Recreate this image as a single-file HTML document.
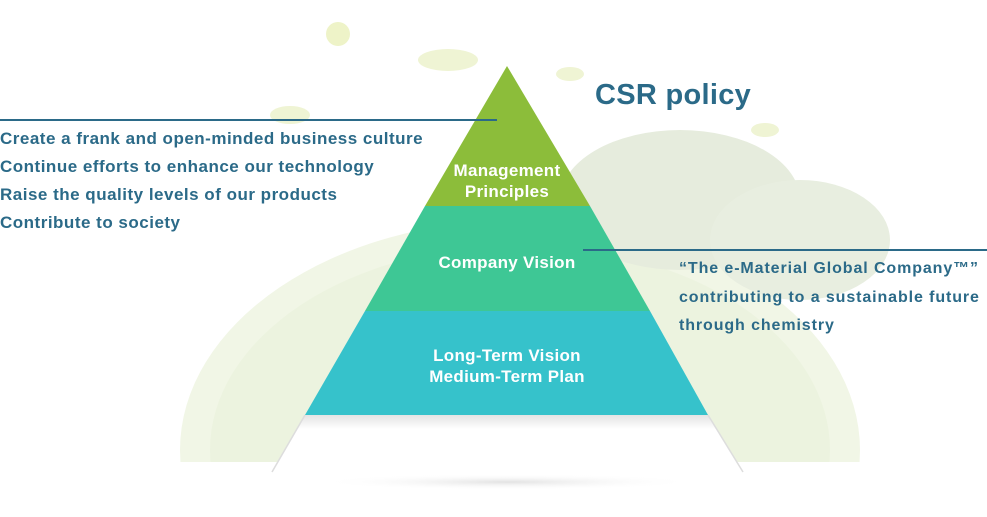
<!DOCTYPE html>
<html><head><meta charset="utf-8"><style>
html,body{margin:0;width:987px;height:517px;overflow:hidden;background:#fff;font-family:"Liberation Sans","DejaVu Sans",sans-serif;}
.t{position:absolute;color:#2b6a88;font-weight:bold;font-size:17px;letter-spacing:0.5px;white-space:nowrap;line-height:20px}
.w{color:#fff;font-size:17px;letter-spacing:0.3px;left:382px;width:250px;text-align:center}
</style></head><body>
<svg width="987" height="517" style="position:absolute;left:0;top:0">
<defs>
<radialGradient id="sh" cx="50%" cy="50%" r="50%"><stop offset="0" stop-color="#e2e2e2"/><stop offset="1" stop-color="#fff" stop-opacity="0"/></radialGradient>
<linearGradient id="wg" x1="0" y1="0" x2="0" y2="1"><stop offset="0" stop-color="#e4e4e4"/><stop offset="0.25" stop-color="#fff"/></linearGradient>
</defs>
<ellipse cx="520" cy="450" rx="340" ry="230" fill="#f1f6e6"/>
<ellipse cx="520" cy="450" rx="310" ry="205" fill="#e9f1da" opacity="0.6"/>
<rect x="0" y="462" width="987" height="55" fill="#fff"/>
<ellipse cx="680" cy="200" rx="120" ry="70" fill="#e6ecdd"/>
<ellipse cx="800" cy="240" rx="90" ry="60" fill="#e8eee0"/>
<circle cx="338" cy="34" r="12" fill="#eef3c8"/>
<ellipse cx="448" cy="60" rx="30" ry="11" fill="#eff4d4"/>
<ellipse cx="290" cy="115" rx="20" ry="9" fill="#eff4d4"/>
<ellipse cx="570" cy="74" rx="14" ry="7" fill="#eff4d4"/>
<ellipse cx="765" cy="130" rx="14" ry="7" fill="#eff4d4"/>
<ellipse cx="507" cy="482" rx="190" ry="8" fill="url(#sh)"/>
<polygon points="305,415 708,415 743,472 272,472" fill="url(#wg)"/>
<line x1="305" y1="415" x2="272" y2="472" stroke="#ddd" stroke-width="1.5"/>
<line x1="708" y1="415" x2="743" y2="472" stroke="#ddd" stroke-width="1.5"/>
<polygon points="365,311 650,311 708,415 305,415" fill="#36c2cb"/>
<polygon points="425,206 590,206 650,311 365,311" fill="#3ec795"/>
<polygon points="507,66 590,206 425,206" fill="#8cbd3a"/>
<line x1="0" y1="120" x2="497" y2="120" stroke="#2b6a88" stroke-width="2"/>
<line x1="583" y1="250" x2="987" y2="250" stroke="#2b6a88" stroke-width="2"/>
</svg>
<div class="t" style="left:0;top:129px">Create a frank and open-minded business culture</div>
<div class="t" style="left:0;top:157px">Continue efforts to enhance our technology</div>
<div class="t" style="left:0;top:185px">Raise the quality levels of our products</div>
<div class="t" style="left:0;top:213px">Contribute to society</div>
<div class="t" style="left:595px;top:79px;font-size:29px;line-height:32px;letter-spacing:0.3px">CSR policy</div>
<div class="t" style="left:679px;top:259px;font-size:16px;letter-spacing:0.9px">“The e-Material Global Company™”</div>
<div class="t" style="left:679px;top:288px;font-size:16px;letter-spacing:0.9px">contributing to a sustainable future</div>
<div class="t" style="left:679px;top:316px;font-size:16px;letter-spacing:0.9px">through chemistry</div>
<div class="t w" style="top:160px;line-height:21px">Management<br>Principles</div>
<div class="t w" style="top:253px">Company Vision</div>
<div class="t w" style="top:345px;line-height:21px">Long-Term Vision<br>Medium-Term Plan</div>
</body></html>
